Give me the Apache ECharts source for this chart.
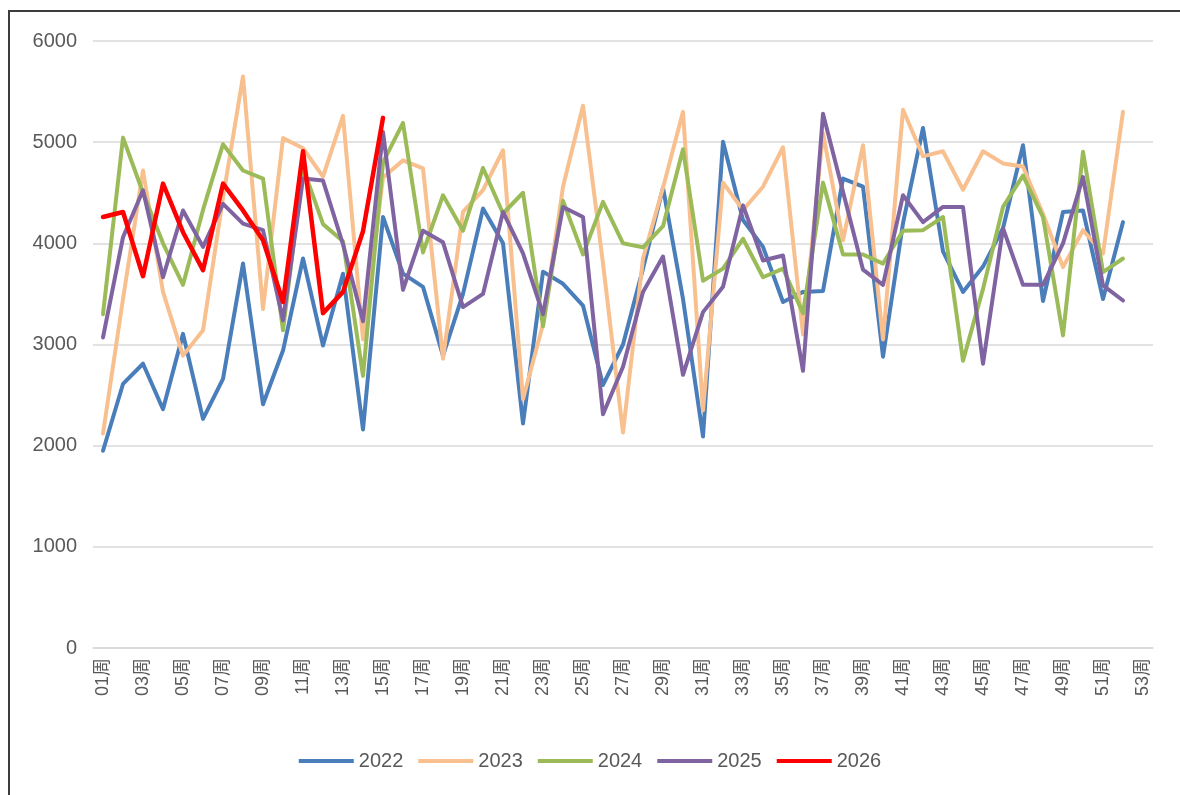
<!DOCTYPE html>
<html>
<head>
<meta charset="utf-8">
<style>
html,body{margin:0;padding:0;background:#fff;}
#chart{width:1180px;height:795px;}
</style>
<script src="https://cdn.jsdelivr.net/npm/echarts@6/dist/echarts.min.js"></script>
</head>
<body>
<div id="chart"></div>
<script>
const weeks = [];
for (let i = 1; i <= 53; i++) weeks.push((i < 10 ? '0' + i : '' + i) + '周');

const yTicks = [0, 1000, 2000, 3000, 4000, 5000, 6000];

const s2022 = [1950,2610,2810,2360,3105,2265,2660,3800,2410,2940,3850,2990,3700,2160,4260,3700,3570,2890,3500,4345,4000,2220,3720,3600,3385,2600,3000,3750,4550,3450,2090,5005,4230,3965,3420,3520,3530,4640,4560,2880,4200,5140,3920,3520,3770,4150,4970,3430,4310,4325,3450,4210];
const s2023 = [2120,3450,4720,3520,2890,3140,4450,5650,3350,5040,4940,4660,5260,3050,4650,4820,4740,2860,4310,4525,4920,2460,3200,4560,5360,3800,2130,3850,4550,5300,2350,4600,4330,4560,4950,3100,5090,4030,4970,3050,5320,4860,4910,4530,4910,4790,4760,4290,3765,4130,3900,5300];
const s2024 = [3300,5045,4500,4000,3590,4330,4980,4720,4640,3140,4750,4190,4020,2690,4800,5190,3910,4475,4125,4745,4295,4500,3180,4420,3890,4410,4000,3960,4170,4930,3630,3750,4045,3665,3750,3310,4600,3890,3890,3800,4125,4130,4260,2840,3550,4360,4670,4260,3090,4905,3715,3850];
const s2025 = [3070,4060,4525,3665,4325,3965,4390,4195,4130,3240,4640,4620,3990,3230,5100,3540,4125,4010,3370,3500,4310,3900,3300,4360,4260,2310,2780,3520,3870,2700,3320,3570,4375,3830,3880,2740,5280,4510,3740,3590,4475,4210,4360,4360,2810,4150,3590,3590,4000,4655,3585,3435];
const s2026 = [4260,4310,3675,4590,4110,3735,4590,4325,4030,3420,4910,3310,3520,4120,5240];

const seriesNames = ['2022','2023','2024','2025','2026'];
const seriesData = [s2022, s2023, s2024, s2025, s2026];
const colors = ['#4A7EBB','#F9C08F','#9BBB59','#8064A2','#FF0000'];
const widths = [4,4,4,4,4.5];

const font = "'Liberation Sans','Noto Sans CJK SC',sans-serif";
const chart = echarts.init(document.getElementById('chart'));
chart.setOption({
  animation: false,
  graphic: [{
    type: 'rect',
    shape: {x: 9, y: 11, width: 1200, height: 820},
    style: {fill: 'none', stroke: '#3c3c3c', lineWidth: 2},
    silent: true
  }],
  grid: {left: 93, right: 27, top: 41, bottom: 147, containLabel: false},
  legend: {
    bottom: 19,
    left: 'center',
    icon: 'rect',
    itemWidth: 55,
    itemHeight: 4,
    itemGap: 15,
    textStyle: {fontFamily: font, fontSize: 20, color: '#595959'},
    data: seriesNames
  },
  xAxis: {
    type: 'category',
    data: weeks,
    boundaryGap: true,
    axisLine: {show: true, lineStyle: {color: '#D9D9D9', width: 1.5}},
    axisTick: {show: false},
    axisLabel: {
      interval: 1,
      rotate: 90,
      margin: 10,
      fontFamily: font,
      fontSize: 18,
      color: '#595959'
    }
  },
  yAxis: {
    type: 'value',
    min: yTicks[0],
    max: yTicks[yTicks.length - 1],
    interval: 1000,
    axisLine: {show: false},
    axisTick: {show: false},
    splitLine: {lineStyle: {color: '#D9D9D9', width: 1.5}},
    axisLabel: {margin: 16, fontFamily: font, fontSize: 20, color: '#595959',
      formatter: v => String(v)}
  },
  series: seriesNames.map((n, i) => ({
    name: n,
    type: 'line',
    data: seriesData[i],
    symbol: 'none',
    color: colors[i],
    lineStyle: {color: colors[i], width: widths[i], join: 'round', cap: 'round'},
    z: i === 4 ? 10 : 2 + i
  }))
});
</script>
</body>
</html>
